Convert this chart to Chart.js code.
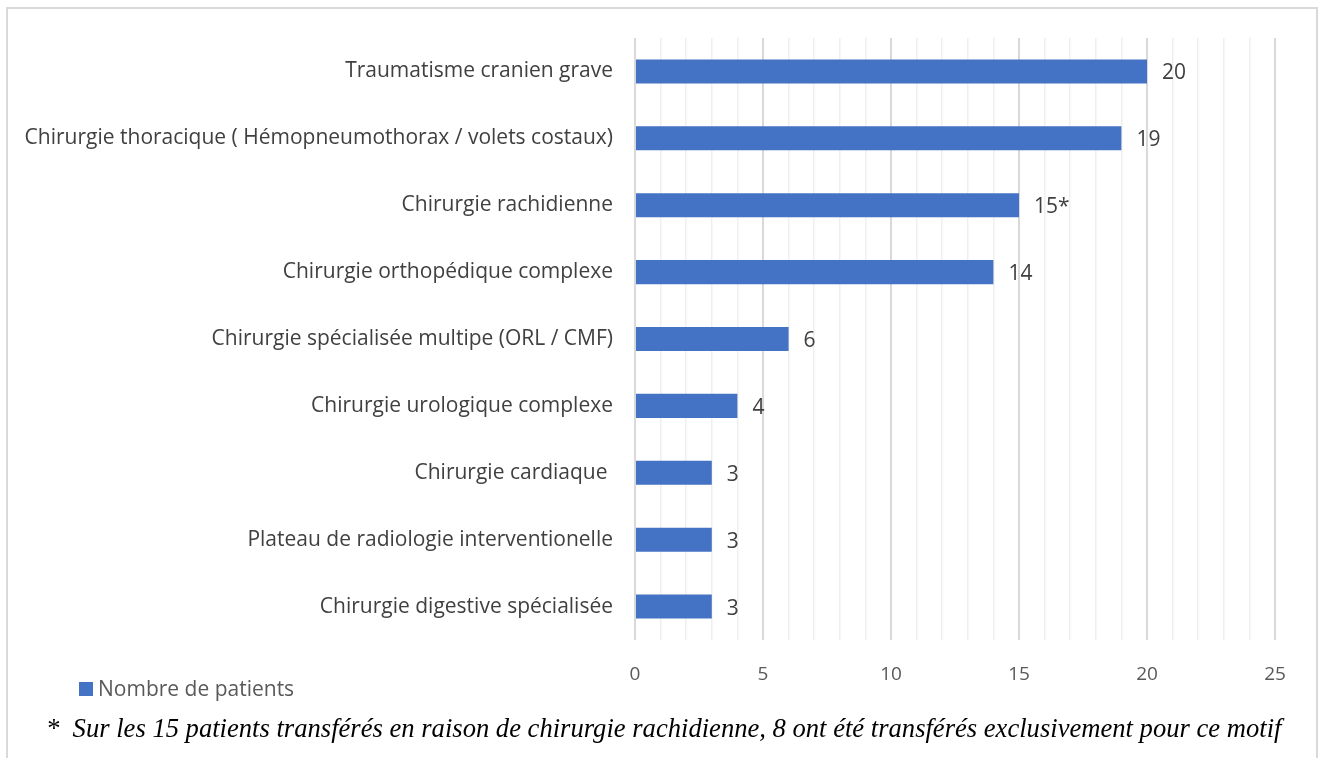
<!DOCTYPE html>
<html>
<head>
<meta charset="utf-8">
<script src="https://cdn.jsdelivr.net/npm/chart.js@4"></script>
<style>
  html, body { margin: 0; padding: 0; background: #fff; }
  #frame { position: absolute; left: 6px; top: 7px; width: 1308px; height: 760px;
           border: 2px solid #d9d9d9; border-bottom: none; }
  #wrap { position: absolute; left: 0; top: 0; width: 1320px; height: 758px; }
</style>
</head>
<body>
<div id="frame"></div>
<div id="wrap"><canvas id="c" width="1320" height="758"></canvas></div>
<script>
const categories = [
  "Traumatisme cranien grave",
  "Chirurgie thoracique ( Hémopneumothorax / volets costaux)",
  "Chirurgie rachidienne",
  "Chirurgie orthopédique complexe",
  "Chirurgie spécialisée multipe (ORL / CMF)",
  "Chirurgie urologique complexe",
  "Chirurgie cardiaque ",
  "Plateau de radiologie interventionelle",
  "Chirurgie digestive spécialisée"
];
const patients = [20, 19, 15, 14, 6, 4, 3, 3, 3];
const labelSuffix = ["", "", "*", "", "", "", "", "", ""];
const seriesName = "Nombre de patients";
const xTicks = [0, 5, 10, 15, 20, 25];
const footnote = "*  Sur les 15 patients transférés en raison de chirurgie rachidienne, 8 ont été transférés exclusivement pour ce motif";

const BAR = "#4472c4";
const SANS = "'Open Sans', sans-serif";

const valueLabels = {
  id: "valueLabels",
  afterDatasetsDraw(chart) {
    const ctx = chart.ctx;
    const meta = chart.getDatasetMeta(0);
    ctx.save();
    ctx.font = "21px " + SANS;
    ctx.fillStyle = "#404040";
    ctx.textAlign = "left";
    ctx.textBaseline = "middle";
    meta.data.forEach((bar, i) => {
      ctx.fillText(String(patients[i]) + labelSuffix[i], bar.x + 15, bar.y + 2);
    });
    ctx.restore();
  }
};

const legendAndNote = {
  id: "legendAndNote",
  afterDraw(chart) {
    const ctx = chart.ctx;
    ctx.save();
    const ds = chart.data.datasets[0];
    ctx.fillStyle = ds.backgroundColor;
    ctx.fillRect(79, 682, 14, 14);
    ctx.fillStyle = "#595959";
    ctx.font = "21px " + SANS;
    ctx.textBaseline = "middle";
    ctx.textAlign = "left";
    ctx.fillText(ds.label, 98, 690);
    ctx.fillStyle = "#000";
    ctx.font = "italic 26.6px 'Liberation Serif', 'Times New Roman', serif";
    ctx.textAlign = "left";
    ctx.textBaseline = "alphabetic";
    ctx.fillText(footnote, 46, 737);
    ctx.restore();
  }
};

new Chart(document.getElementById("c"), {
  type: "bar",
  data: {
    labels: categories,
    datasets: [{
      label: seriesName,
      data: patients,
      backgroundColor: BAR,
      barPercentage: 0.9,
      categoryPercentage: 0.4
    }]
  },
  options: {
    indexAxis: "y",
    responsive: false,
    animation: false,
    devicePixelRatio: 1,
    layout: { padding: { left: 0, right: 45, top: 38, bottom: 68 } },
    plugins: {
      legend: { display: false },
      tooltip: { enabled: false }
    },
    scales: {
      x: {
        min: 0, max: 25,
        afterFit(scale) { scale.height = 50; },
        border: { display: false },
        grid: {
          drawTicks: false,
          color: c => (c.tick && c.tick.value % 5 === 0) ? "#d9d9d9" : "#efefef",
          lineWidth: c => (c.tick && c.tick.value % 5 === 0) ? 2 : 1.5
        },
        ticks: {
          stepSize: 1,
          autoSkip: false,
          maxRotation: 0,
          padding: 23,
          color: "#595959",
          font: { family: SANS, size: 19 },
          callback: v => xTicks.includes(v) ? String(v) : ""
        }
      },
      y: {
        afterFit(scale) { scale.width = 635; },
        border: { display: false },
        grid: { display: false, drawTicks: false },
        ticks: {
          padding: 22,
          color: "#404040",
          font: { family: SANS, size: 21 }
        }
      }
    }
  },
  plugins: [valueLabels, legendAndNote]
});
</script>
</body>
</html>
